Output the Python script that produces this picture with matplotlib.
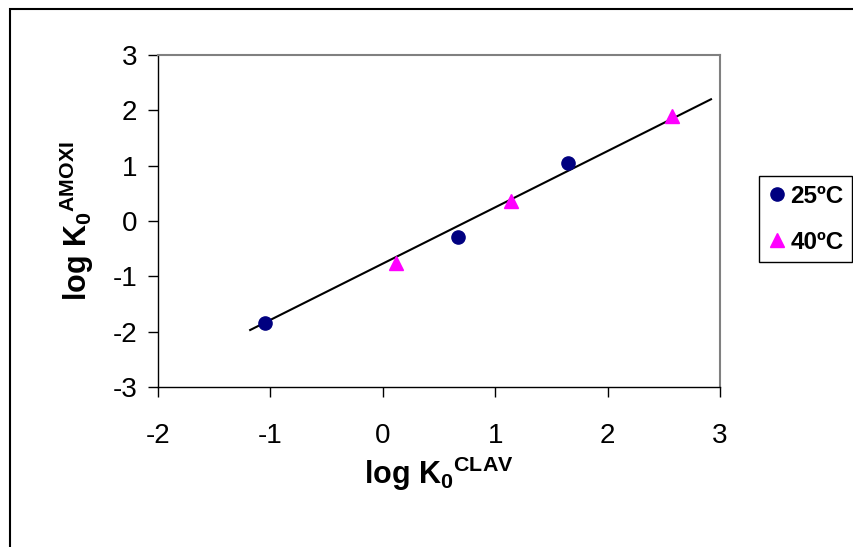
import matplotlib
matplotlib.use("Agg")
import matplotlib.pyplot as plt
from matplotlib.patches import Rectangle

plt.rcParams['font.family'] = ['Liberation Sans', 'DejaVu Sans']
plt.rcParams['mathtext.fontset'] = 'custom'
plt.rcParams['mathtext.rm'] = 'Liberation Sans'
plt.rcParams['mathtext.bf'] = 'Liberation Sans:bold'
plt.rcParams['mathtext.it'] = 'Liberation Sans:italic'
plt.rcParams['axes.unicode_minus'] = False

# data
x25 = [-1.05, 0.67, 1.65]
y25 = [-1.85, -0.29, 1.05]
x40 = [0.12, 1.14, 2.57]
y40 = [-0.76, 0.36, 1.90]
fit_x = [-1.18, 2.92]
fit_y = [-1.97, 2.20]
xticks = [-2, -1, 0, 1, 2, 3]
yticks = [-3, -2, -1, 0, 1, 2, 3]

W, H = 854, 547
fig = plt.figure(figsize=(W/100, H/100), dpi=100)
ax = fig.add_axes([158/W, 1-387/H, (720-158)/W, (387-55)/H])

ax.plot(fit_x, fit_y, color='black', lw=1.5, zorder=2)
ax.plot(x25, y25, 'o', color='#000080', ms=9.5, ls='none', label='25ºC', zorder=3)
ax.plot(x40, y40, '^', color='#FF00FF', ms=9.5, ls='none', label='40ºC', zorder=3)

ax.set_xlim(-2, 3)
ax.set_ylim(-3, 3)
ax.set_xticks(xticks)
ax.set_yticks(yticks)
ax.tick_params(direction='out', length=7, width=1, labelsize=20, color='black')
ax.tick_params(axis='x', pad=19)
ax.tick_params(axis='y', pad=8)
for s in ['top', 'right']:
    ax.spines[s].set_color('#808080')
    ax.spines[s].set_linewidth(1.5)
for s in ['left', 'bottom']:
    ax.spines[s].set_color('black')
    ax.spines[s].set_linewidth(1)

ax.set_xlabel(r'$\mathbf{log\ K_0{}^{CLAV}}$', fontsize=22, labelpad=4)
ax.set_ylabel(r'$\mathbf{log\ K_0{}^{AMOXI}}$', fontsize=22, labelpad=12)

leg = fig.legend(loc='upper left', bbox_to_anchor=(759/W, 1-176/H), borderaxespad=0,
                 frameon=True, fancybox=False, edgecolor='black', framealpha=1,
                 prop={'weight': 'bold', 'size': 17.5}, handletextpad=0.15,
                 handlelength=0.8, borderpad=0.35, labelspacing=0.95)
leg.get_frame().set_linewidth(1)

fig.patches.append(Rectangle((10/W, -0.1), 1.2, 1.1 - 9/H, transform=fig.transFigure,
                             fill=False, edgecolor='black', lw=1.5, clip_on=False))

fig.savefig('out.png', dpi=100)
